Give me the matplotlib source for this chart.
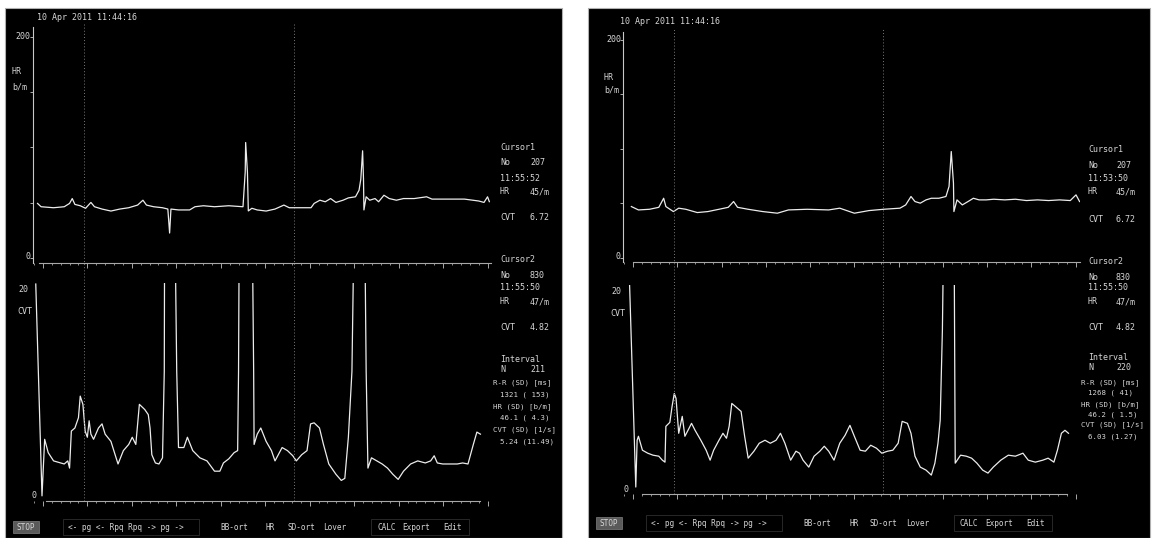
import matplotlib
matplotlib.use("Agg")
import matplotlib.pyplot as plt
from matplotlib.patches import Rectangle
from matplotlib.ticker import MultipleLocator

W, H = 1154, 538
INK = "#d6d6d6"
MONO = "DejaVu Sans Mono"

# time axis is % of the displayed recording window
hr_left_t = [-1.2, -0.4, 2.4, 4.8, 6.0, 6.6, 7.2, 8.4, 9.6, 10.8, 11.6, 13.3, 15.3, 17.3,
             19.3, 21.3, 22.5, 23.3, 24.9, 26.9, 28.1, 28.5, 28.8, 30.5, 33.0, 34.2, 36.1,
             38.6, 41.8, 45.0, 45.5, 45.6, 46.0, 46.2, 47.0, 48.2, 50.2, 52.2, 54.2, 55.4,
             57.8, 60.3, 61.0, 62.3, 63.5, 64.7, 65.9, 67.5, 68.7, 70.3, 71.1, 71.5, 71.9,
             72.1, 72.2, 72.7, 73.5, 74.7, 75.5, 76.7, 77.9, 79.5, 81.1, 83.5, 86.3, 87.5,
             90.8, 94.8, 98.0, 99.2, 100.0, 100.4]
hr_left = [49.4, 46.4, 45.5, 46.4, 49.4, 53.8, 48.5, 47.3, 45.0, 50.3, 46.4, 44.3, 42.5, 44.3,
           45.5, 47.9, 52.3, 47.9, 46.4, 45.5, 44.3, 22.6, 44.3, 43.5, 43.5, 46.4, 47.3,
           46.4, 47.3, 46.4, 77.7, 104.5, 77.7, 42.6, 45.0, 43.5, 42.5, 44.3, 47.9, 45.5,
           45.5, 45.5, 49.4, 52.3, 50.9, 53.8, 50.3, 52.3, 54.4, 55.4, 61.3, 71.4, 97.0,
           71.4, 43.5, 55.4, 52.3, 53.8, 50.9, 56.8, 53.8, 52.3, 53.8, 53.8, 55.4, 53.3,
           53.3, 53.3, 51.6, 50.3, 55.4, 51.0]

cvt_left_t = [-1.6, -0.2, 0.4, 1.2, 2.4, 4.0, 4.8, 5.6, 6.0, 6.4, 7.2, 8.0, 8.4, 9.0, 9.5,
              10.0, 10.4, 10.8, 11.4, 12.5, 13.3, 14.0, 15.3, 16.9, 18.1, 19.3, 20.1, 20.9,
              21.7, 22.9, 23.7, 24.1, 24.5, 25.3, 26.1, 26.9, 27.3, 27.4, 29.6, 30.1, 30.5,
              31.7, 32.5, 33.7, 35.3, 36.9, 38.6, 39.8, 40.6, 41.8, 43.0, 43.8, 44.0, 44.2,
              47.0, 47.4, 47.5, 48.2, 49.0, 50.2, 51.4, 52.2, 53.8, 55.0, 56.2, 57.0, 58.2,
              59.4, 60.2, 61.0, 62.2, 63.1, 64.3, 65.9, 67.1, 67.9, 68.7, 69.5, 70.1, 72.3,
              72.7, 73.1, 73.9, 75.1, 76.3, 77.5, 78.7, 79.9, 81.1, 82.7, 84.3, 86.0, 87.2,
              88.0, 88.7, 89.9, 91.6, 93.2, 94.4, 95.6, 96.8, 97.6, 98.4]
cvt_left = [20.6, 0.0, 5.5, 4.2, 3.4, 3.2, 3.1, 3.4, 2.7, 6.3, 6.6, 7.6, 9.7, 8.9, 6.3,
            5.7, 7.3, 6.0, 5.5, 6.6, 7.0, 6.0, 5.3, 3.1, 4.4, 5.0, 5.7, 5.0,
            8.9, 8.4, 7.9, 6.6, 4.0, 3.2, 3.1, 3.7, 12.1, 30.0, 30.0, 12.1, 4.7,
            4.7, 5.7, 4.4, 3.7, 3.4, 2.4, 2.4, 3.2, 3.6, 4.2, 4.4, 12.1, 30.0,
            30.0, 12.1, 5.0, 6.0, 6.6, 5.3, 4.4, 3.4, 4.7, 4.4, 3.9, 3.4, 4.0,
            4.4, 7.0, 7.1, 6.6, 5.0, 3.1, 2.1, 1.5, 1.7, 5.7, 12.1, 30.0, 30.0,
            12.1, 2.7, 3.7, 3.4, 3.1, 2.7, 2.1, 1.6, 2.4, 3.1, 3.4, 3.2, 3.4,
            3.9, 3.2, 3.1, 3.1, 3.1, 3.2, 3.1, 5.0, 6.2, 6.0]

hr_right_t = [-0.4, 1.2, 3.7, 5.8, 6.9, 7.4, 9.1, 10.3, 11.9, 14.5, 16.9, 19.4, 21.5, 22.7,
              23.6, 26.0, 29.3, 32.6, 35.1, 39.3, 44.2, 46.7, 50.0, 53.3, 56.6, 60.3, 61.6,
              62.8, 63.7, 64.9, 66.2, 67.4, 69.1, 70.7, 71.4, 71.9, 72.4, 72.5, 73.2, 74.4,
              75.7, 76.9, 78.2, 79.8, 81.5, 84.0, 86.4, 88.9, 91.4, 93.9, 96.4, 98.8, 100.1,
              100.9]
hr_right = [47.1, 44.0, 44.6, 46.4, 54.7, 47.1, 42.5, 45.6, 44.6, 41.6, 42.5, 44.6, 46.4, 51.7,
            46.4, 44.6, 42.5, 41.0, 44.0, 44.6, 44.0, 45.6, 41.0, 43.4, 44.6, 45.6, 48.6,
            56.3, 51.7, 50.2, 53.2, 54.7, 54.7, 56.3, 65.5, 97.5, 68.5, 42.5, 53.2, 48.6,
            51.7, 54.7, 53.2, 53.2, 53.8, 53.2, 53.8, 52.6, 53.2, 52.6, 53.2, 52.6, 57.8,
            51.7]

cvt_right_t = [-0.8, 0.6, 0.9, 1.2, 2.1, 3.3, 4.5, 5.8, 6.6, 7.2, 7.4, 8.3, 8.8, 9.3, 9.7,
               10.3, 11.1, 11.7, 12.4, 13.2, 14.0, 15.3, 16.5, 17.4, 18.2, 19.4, 20.3, 21.1,
               21.7, 22.3, 23.1, 24.4, 25.2, 26.0, 27.3, 28.5, 29.8, 31.0, 32.3, 33.3, 34.3,
               35.6, 36.8, 37.6, 38.4, 39.7, 40.9, 42.2, 43.2, 44.2, 45.4, 46.7, 47.9, 49.0,
               50.0, 51.3, 52.5, 53.7, 55.0, 56.2, 57.5, 58.7, 59.9, 60.8, 62.0, 62.8, 63.7,
               64.9, 66.2, 67.4, 68.2, 68.9, 69.4, 69.9, 70.3, 72.5, 72.7, 72.8, 74.0, 75.3,
               76.5, 77.7, 79.0, 80.2, 81.4, 83.1, 84.8, 86.4, 88.1, 89.3, 90.9, 92.6, 93.8,
               95.1, 95.9, 96.8, 97.6, 98.4]
cvt_right = [20.6, 0.3, 5.0, 5.4, 4.0, 3.7, 3.5, 3.4, 3.0, 2.8, 6.4, 6.8, 8.4, 9.7, 9.2,
             5.7, 7.4, 5.4, 6.0, 6.7, 6.0, 5.0, 4.0, 3.0, 4.0, 5.0, 5.7, 5.2,
             6.4, 8.7, 8.4, 7.9, 5.4, 3.2, 3.9, 4.7, 5.0, 4.7, 5.0, 5.7, 4.7,
             3.0, 3.9, 3.7, 3.0, 2.3, 3.4, 3.9, 4.4, 3.9, 3.0, 4.7, 5.5, 6.5,
             5.4, 4.0, 3.9, 4.5, 4.2, 3.7, 3.9, 4.0, 4.7, 6.9, 6.7, 5.7, 3.4,
             2.3, 2.0, 1.5, 2.7, 4.7, 7.0, 16.1, 30.0, 30.0, 11.4, 2.7, 3.5, 3.4,
             3.2, 2.7, 2.0, 1.7, 2.3, 3.0, 3.5, 3.4, 3.7, 3.0, 2.8, 3.0, 3.2,
             2.8, 4.0, 5.7, 6.0, 5.7]

cursor_t = [9.3, 56.4]
stamp = "10 Apr 2011 11:44:16"
toolbar = ["STOP", "<- pg <- Rpq Rpq -> pg ->", "BB-ort", "HR", "SD-ort", "Lover",
           "CALC", "Export", "Edit"]
info_left = ["Cursor1", ("No", "207"), "11:55:52", ("HR", "45/m"), ("CVT", "6.72"),
             "Cursor2", ("No", "830"), "11:55:50", ("HR", "47/m"), ("CVT", "4.82"),
             "Interval", ("N", "211"), "R-R (SD) [ms]", "1321 ( 153)", "HR (SD) [b/m]",
             "46.1 ( 4.3)", "CVT (SD) [1/s]", "5.24 (11.49)"]
info_right = ["Cursor1", ("No", "207"), "11:53:50", ("HR", "45/m"), ("CVT", "6.72"),
              "Cursor2", ("No", "830"), "11:55:50", ("HR", "47/m"), ("CVT", "4.82"),
              "Interval", ("N", "220"), "R-R (SD) [ms]", "1268 ( 41)", "HR (SD) [b/m]",
              "46.2 ( 1.5)", "CVT (SD) [1/s]", "6.03 (1.27)"]


def frac(x0, y0, x1, y1):
    """pixel box (top-left origin) -> figure fraction rect"""
    return [x0 / W, 1 - y1 / H, (x1 - x0) / W, (y1 - y0) / H]


def txt(fig, x, y, s, ha="left", size=6):
    fig.text(x / W, 1 - y / H, s, ha=ha, va="center", color=INK, fontsize=size, family=MONO)


def trace_axes(fig, box, ylim, xbounds, left_spine):
    ax = fig.add_axes(frac(*box))
    ax.set_facecolor("none")
    ax.set_xlim(-2.2, 101)
    ax.set_ylim(*ylim)
    for side in ("top", "right"):
        ax.spines[side].set_visible(False)
    ax.spines["bottom"].set_color("#a8a8a8")
    ax.spines["bottom"].set_linewidth(0.8)
    ax.spines["bottom"].set_bounds(*xbounds)
    ax.spines["left"].set_visible(left_spine)
    ax.spines["left"].set_color("#c8c8c8")
    ax.xaxis.set_major_locator(MultipleLocator(10))
    ax.xaxis.set_minor_locator(MultipleLocator(2))
    ax.tick_params(axis="x", which="major", length=3.5, width=0.7, color="#a8a8a8",
                   labelbottom=False)
    ax.tick_params(axis="x", which="minor", length=1.5, width=0.6, color="#a8a8a8")
    if left_spine:
        ax.set_yticks([0, 50, 100, 150, 200])
        ax.tick_params(axis="y", length=2, width=0.6, color="#c8c8c8", labelleft=False)
    else:
        ax.set_yticks([])
    return ax


def draw_panel(fig, p):
    x0 = p["bg"][0]
    fig.patches.append(Rectangle((x0 / W, 0), (p["bg"][1] - x0) / W, 1 - 8 / H,
                                 transform=fig.transFigure, zorder=-10,
                                 facecolor="black", edgecolor="#b0b0b0", lw=0.8))
    top = trace_axes(fig, p["top"], p["top_ylim"], p["top_xb"], True)
    bot = trace_axes(fig, p["bot"], p["bot_ylim"], p["bot_xb"], False)
    top.plot(p["hr_t"], p["hr"], color="#ececec", lw=0.9)
    bot.plot(p["cvt_t"], p["cvt"], color="#ececec", lw=0.9)
    reach = (p["bot"][3] - p["top"][1] + 4) / (p["bot"][3] - p["bot"][1])
    for t in cursor_t:
        bot.axvline(t, ymin=0, ymax=reach, clip_on=False, color="#7a7a7a", lw=0.7,
                    ls=(0, (1, 2.2)))

    txt(fig, x0 + 32, p["stamp_y"], stamp)
    for s, x, y, ha in p["labels"]:
        txt(fig, x, y, s, ha=ha)

    lx, vx = p["info_x"]
    for i, (line, y) in enumerate(zip(p["info"], p["info_y"])):
        if isinstance(line, tuple):
            txt(fig, lx, y, line[0])
            txt(fig, vx, y, line[1])
        elif i >= 12:
            # interval statistics: headers sit left, values indented
            txt(fig, lx - 7 if "(SD)" in line else lx, y, line, size=5.3)
        else:
            txt(fig, lx, y, line)

    ty = p["tool_y"]
    fig.patches.append(Rectangle(((x0 + 8) / W, 1 - (ty + 6) / H), 26 / W, 12 / H,
                                 transform=fig.transFigure,
                                 facecolor="#5a5a5a", edgecolor="#808080", lw=0.5))
    for (x1, x2) in ((x0 + 58, x0 + 194), (x0 + 366, x0 + 464)):
        fig.patches.append(Rectangle((x1 / W, 1 - (ty + 8) / H), (x2 - x1) / W, 16 / H,
                                     transform=fig.transFigure, facecolor="none",
                                     edgecolor="#2e2e2e", lw=0.6))
    for s, dx in zip(toolbar, (21, 63, 215, 261, 282, 318, 372, 397, 438)):
        txt(fig, x0 + dx, ty, s, ha="center" if s == "STOP" else "left", size=5.6)


fig = plt.figure(figsize=(W / 100, H / 100), dpi=100, facecolor="white")

left = dict(
    bg=(5, 562), top=(33.1, 27, 492, 263), bot=(33.1, 283, 492, 501),
    top_ylim=(-4.5, 209), bot_ylim=(-0.5, 20.7), top_xb=(-0.9, 100.7), bot_xb=(0.7, 98.3),
    hr_t=hr_left_t, hr=hr_left, cvt_t=cvt_left_t, cvt=cvt_left, stamp_y=17,
    labels=[("200", 30, 37, "right"), ("HR", 12, 72, "left"), ("b/m", 12, 87, "left"),
            ("0", 30, 257, "right"), ("20", 18, 290, "left"), ("CVT", 17, 312, "left"),
            ("0", 36, 496, "right")],
    info=info_left, info_x=(500, 530),
    info_y=[147, 163, 178, 192, 217, 260, 275, 288, 302, 327, 360, 370, 383, 395, 407, 418,
            430, 442],
    tool_y=527,
)
right = dict(
    bg=(588, 1150), top=(623.4, 32, 1080, 262), bot=(623.4, 285, 1080, 494),
    top_ylim=(-3.7, 207), bot_ylim=(-0.4, 20.6), top_xb=(0.0, 100.9), bot_xb=(2.0, 98.0),
    hr_t=hr_right_t, hr=hr_right, cvt_t=cvt_right_t, cvt=cvt_right, stamp_y=21,
    labels=[("200", 621, 40, "right"), ("HR", 604, 77, "left"), ("b/m", 604, 90, "left"),
            ("0", 620, 257, "right"), ("20", 611, 291, "left"), ("CVT", 610, 313, "left"),
            ("0", 629, 490, "right")],
    info=info_right, info_x=(1088, 1116),
    info_y=[150, 165, 178, 192, 220, 262, 277, 288, 302, 327, 358, 368, 383, 393, 405, 415,
            425, 437],
    tool_y=523,
)

draw_panel(fig, left)
draw_panel(fig, right)

fig.savefig("out.png", dpi=100, facecolor="white")
